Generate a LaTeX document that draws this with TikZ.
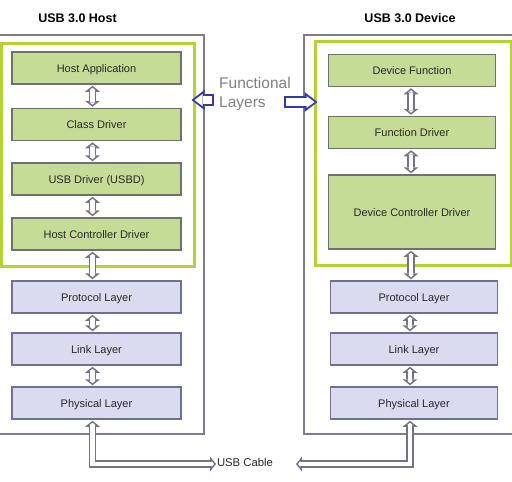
\documentclass[tikz,border=0pt]{standalone}
\usepackage{fontspec}
\setmainfont{Liberation Sans}
\usetikzlibrary{arrows.meta}

\definecolor{gfill}{RGB}{196,220,150}
\definecolor{gline}{RGB}{112,112,112}
\definecolor{pfill}{RGB}{218,218,240}
\definecolor{pline}{RGB}{112,112,148}
\definecolor{lime}{RGB}{181,211,52}
\definecolor{fgray}{RGB}{125,125,140}
\definecolor{agray}{RGB}{115,115,135}
\definecolor{flblue}{RGB}{55,55,170}
\definecolor{txt}{RGB}{40,40,40}

\tikzset{
	gbox/.style={draw=gline,fill=gfill,line width=1.5pt,minimum width=169pt,minimum height=32pt,inner sep=0pt,text height=8pt,text depth=0pt,font=\fontsize{11}{13}\selectfont,text=txt},
	pbox/.style={gbox,draw=pline,fill=pfill},
	frame/.style={draw=fgray,line width=1.5pt,inner sep=0pt},
	lframe/.style={draw=lime,line width=3pt,inner sep=0pt},
	hollowout/.style={draw=agray,line width=7.5pt,line join=miter,{Triangle[width=15pt,length=6pt,line width=0pt]}-{Triangle[width=15pt,length=6pt,line width=0pt]},shorten <=1pt,shorten >=1pt},
	hollowin/.style={draw=white,line width=4.3pt,line join=miter,{Triangle[width=5.9pt,length=2.4pt,line width=0pt]}-{Triangle[width=5.9pt,length=2.4pt,line width=0pt]},shorten <=3.05pt,shorten >=3.05pt},
	flout/.style={draw=flblue,line width=12pt,-{Triangle[width=20pt,length=13pt,line width=0pt]},shorten >=-4pt},
	flin/.style={draw=white,line width=8pt,-{Triangle[width=12pt,length=8pt,line width=0pt]},shorten <=2pt,shorten >=-1pt},
}

\begin{document}
\begin{tikzpicture}[x=1pt,y=-1pt]
		\useasboundingbox (0,0) rectangle (512,482);

		\node[font=\fontsize{12.5}{15}\selectfont\bfseries,text=black] (htitle) at (77.5,18) {USB 3.0 Host};
		\node[font=\fontsize{12.5}{15}\selectfont\bfseries,text=black] (dtitle) at (410,18) {USB 3.0 Device};

		\node[frame,minimum width=207pt,minimum height=399pt] (hframe) at (100.5,234.5) {};
		\node[frame,minimum width=211pt,minimum height=399pt] (dframe) at (409.5,234.5) {};
		\node[lframe,minimum width=192.5pt,minimum height=223pt] (hfunc) at (97.75,154.5) {};
		\node[lframe,minimum width=196pt,minimum height=224pt] (dfunc) at (413,153) {};

		\node[gbox] (happ) at (96.5,68) {Host Application};
		\node[gbox] (cdrv) at (96.5,124.5) {Class Driver};
		\node[gbox] (usbd) at (96.5,179) {USB Driver (USBD)};
		\node[gbox] (hcd) at (96.5,234) {Host Controller Driver};
		\node[pbox] (hprot) at (96.5,297) {Protocol Layer};
		\node[pbox] (hlink) at (96.5,349) {Link Layer};
		\node[pbox] (hphy) at (96.5,403) {Physical Layer};

		\node[gbox,minimum width=167pt] (dfun) at (412,70.5) {Device Function};
		\node[gbox,minimum width=167pt] (fdrv) at (412,132.5) {Function Driver};
		\node[gbox,minimum width=167pt,minimum height=74pt] (dcd) at (412,212) {Device Controller Driver};
		\node[pbox,minimum width=167pt] (dprot) at (414,297) {Protocol Layer};
		\node[pbox,minimum width=167pt] (dlink) at (414,349) {Link Layer};
		\node[pbox,minimum width=167pt] (dphy) at (414,403) {Physical Layer};

		\foreach \a / \b / \s in {happ/cdrv/-4,cdrv/usbd/-4,usbd/hcd/-4,hcd/hprot/-4,hprot/hlink/-4,hlink/hphy/-4,dfun/fdrv/-1,fdrv/dcd/-1,dcd/dprot/-1,dprot/dlink/-4,dlink/dphy/-4} {
			\draw[hollowout] ([xshift=\s pt]\a.south) -- ([xshift=\s pt]\a.south |- \b.north);
			\draw[hollowin] ([xshift=\s pt]\a.south) -- ([xshift=\s pt]\a.south |- \b.north);
		}

		\node[anchor=west,inner sep=0pt,align=left,text=gray,font=\fontsize{15.5}{19}\selectfont] (fl) at (219,93.5) {Functional\\Layers};
		\coordinate (flL) at (214,100);
		\coordinate (flR) at (284,102);
		\draw[flout] (flL) -- (flL -| hfunc.east);
		\draw[flin] (flL) -- (flL -| hfunc.east);
		\draw[flout] (flR) -- (flR -| dfunc.west);
		\draw[flin] (flR) -- (flR -| dfunc.west);

		\node[inner sep=0pt,text=txt,font=\fontsize{11.3}{13}\selectfont] (cable) at (245,462) {USB Cable};
		\coordinate (hcab) at (92.5,464);
		\coordinate (dcab) at (410,464);
		\coordinate (cabL) at (217,464);
		\coordinate (cabR) at (295,464);
		\draw[hollowout] (hphy.south -| hcab) -- (hcab) -- (cabL);
		\draw[hollowin] (hphy.south -| hcab) -- (hcab) -- (cabL);
		\draw[hollowout] (dphy.south -| dcab) -- (dcab) -- (cabR);
		\draw[hollowin] (dphy.south -| dcab) -- (dcab) -- (cabR);
	\end{tikzpicture}
\end{document}
